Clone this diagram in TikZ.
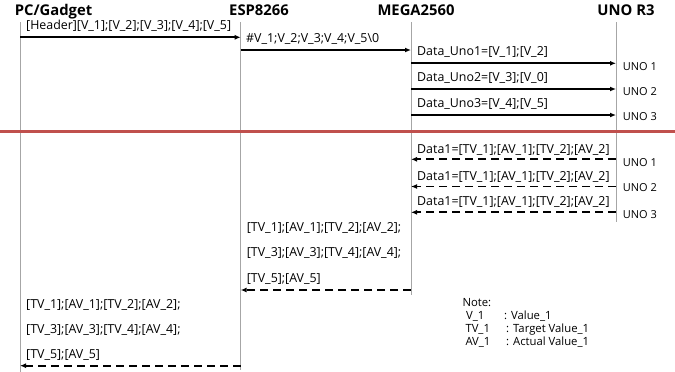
\documentclass[tikz,border=0pt]{standalone}
\usepackage{fontspec}
\setmainfont{Open Sans}
\usetikzlibrary{arrows.meta}
\begin{document}
\begin{tikzpicture}[x=1pt,y=-1pt,
  lifeline/.style={draw=black!35, line width=1pt},
  msg/.style={-{Latex[length=6pt,width=5pt]}, line width=1.8pt},
  retmsg/.style={msg, dash pattern=on 8pt off 5pt},
  lbl/.style={anchor=base west, font=\fontsize{12.4}{14}\selectfont, inner sep=0pt},
  unolbl/.style={anchor=base west, font=\fontsize{11}{13}\selectfont, inner sep=0pt},
  notelbl/.style={anchor=base west, font=\fontsize{11.3}{13}\selectfont, inner sep=0pt},
  hdr/.style={anchor=base, font=\fontsize{14.8}{17}\selectfont\bfseries, inner sep=0pt}]
\useasboundingbox (0,0) rectangle (675,372);
% headers
\node[hdr] (hpc) at (53.5,16) {PC/Gadget};
\node[hdr] (hesp) at (259,16) {ESP8266};
\node[hdr] (hmega) at (416,16) {MEGA2560};
\node[hdr] (huno) at (626,16) {UNO R3};
% lifelines
\coordinate (pct) at (20,22);   \coordinate (pcb) at (20,372);
\coordinate (espt) at (240.7,22); \coordinate (espb) at (240.7,370);
\coordinate (megat) at (411,22); \coordinate (megab) at (411,295);
\coordinate (unot) at (616,22); \coordinate (unob) at (616,221.7);
\draw[lifeline] (pct) -- (pcb);
\draw[lifeline] (espt) -- (espb);
\draw[lifeline] (megat) -- (megab);
\draw[lifeline] (unot) -- (unob);
% request messages
\coordinate (a1s) at (20,37.3);  \coordinate (a1e) at (240.7,37.3);
\coordinate (a2s) at (240.7,50); \coordinate (a2e) at (411,50);
\coordinate (a3s) at (411,63.3); \coordinate (a3e) at (616,63.3);
\coordinate (a4s) at (411,89);   \coordinate (a4e) at (616,89);
\coordinate (a5s) at (411,115);  \coordinate (a5e) at (616,115);
\draw[msg] (a1s) -- (a1e);
\draw[msg] (a2s) -- (a2e);
\draw[msg] (a3s) -- (a3e);
\draw[msg] (a4s) -- (a4e);
\draw[msg] (a5s) -- (a5e);
\node[lbl] (l1) at (26,29) {[Header][V\_1];[V\_2];[V\_3];[V\_4];[V\_5]};
\node[lbl] (l2) at (246,42.7) {\#V\_1;V\_2;V\_3;V\_4;V\_5\textbackslash 0};
\node[lbl] (l3) at (417,55) {Data\_Uno1=[V\_1];[V\_2]};
\node[lbl] (l4) at (417,81) {Data\_Uno2=[V\_3];[V\_0]};
\node[lbl] (l5) at (417,107) {Data\_Uno3=[V\_4];[V\_5]};
\node[unolbl] (u1) at (622.7,70) {UNO 1};
\node[unolbl] (u2) at (622.7,95.5) {UNO 2};
\node[unolbl] (u3) at (622.7,120.7) {UNO 3};
% separator
\coordinate (sepl) at (0,131.7); \coordinate (sepr) at (675,131.7);
\draw[line width=3pt, draw={rgb,255:red,192;green,80;blue,77}] (sepl) -- (sepr);
% replies
\coordinate (b1s) at (616,159.3); \coordinate (b1e) at (411,159.3);
\coordinate (b2s) at (616,186.5); \coordinate (b2e) at (411,186.5);
\coordinate (b3s) at (616,212.3); \coordinate (b3e) at (411,212.3);
\coordinate (b4s) at (411,290);   \coordinate (b4e) at (240.7,290);
\coordinate (b5s) at (240.7,365.7); \coordinate (b5e) at (20,365.7);
\draw[retmsg] (b1s) -- (b1e);
\draw[retmsg] (b2s) -- (b2e);
\draw[retmsg] (b3s) -- (b3e);
\draw[retmsg] (b4s) -- (b4e);
\draw[retmsg] (b5s) -- (b5e);
\node[lbl] (r1) at (417,153.3) {Data1=[TV\_1];[AV\_1];[TV\_2];[AV\_2]};
\node[lbl] (r2) at (417,180) {Data1=[TV\_1];[AV\_1];[TV\_2];[AV\_2]};
\node[lbl] (r3) at (417,205.7) {Data1=[TV\_1];[AV\_1];[TV\_2];[AV\_2]};
\node[unolbl] (v1) at (622.7,166.7) {UNO 1};
\node[unolbl] (v2) at (622.7,191.7) {UNO 2};
\node[unolbl] (v3) at (622.7,218.3) {UNO 3};
\node[lbl] (e1) at (246.7,231.7) {[TV\_1];[AV\_1];[TV\_2];[AV\_2];};
\node[lbl] (e2) at (246.7,256.7) {[TV\_3];[AV\_3];[TV\_4];[AV\_4];};
\node[lbl] (e3) at (246.7,282.7) {[TV\_5];[AV\_5]};
\node[lbl] (p1) at (26,308.3) {[TV\_1];[AV\_1];[TV\_2];[AV\_2];};
\node[lbl] (p2) at (26,333.3) {[TV\_3];[AV\_3];[TV\_4];[AV\_4];};
\node[lbl] (p3) at (26,358.3) {[TV\_5];[AV\_5]};
% note
\node[notelbl] (n0) at (462.3,306.7) {Note:};
\node[notelbl] (n1) at (466,319.3) {V\_1};
\node[notelbl] (n1b) at (504,319.3) {: Value\_1};
\node[notelbl] (n2) at (465.3,332.7) {TV\_1};
\node[notelbl] (n2b) at (506,332.7) {: Target Value\_1};
\node[notelbl] (n3) at (465.3,345) {AV\_1};
\node[notelbl] (n3b) at (506,345) {: Actual Value\_1};
\end{tikzpicture}
\end{document}
